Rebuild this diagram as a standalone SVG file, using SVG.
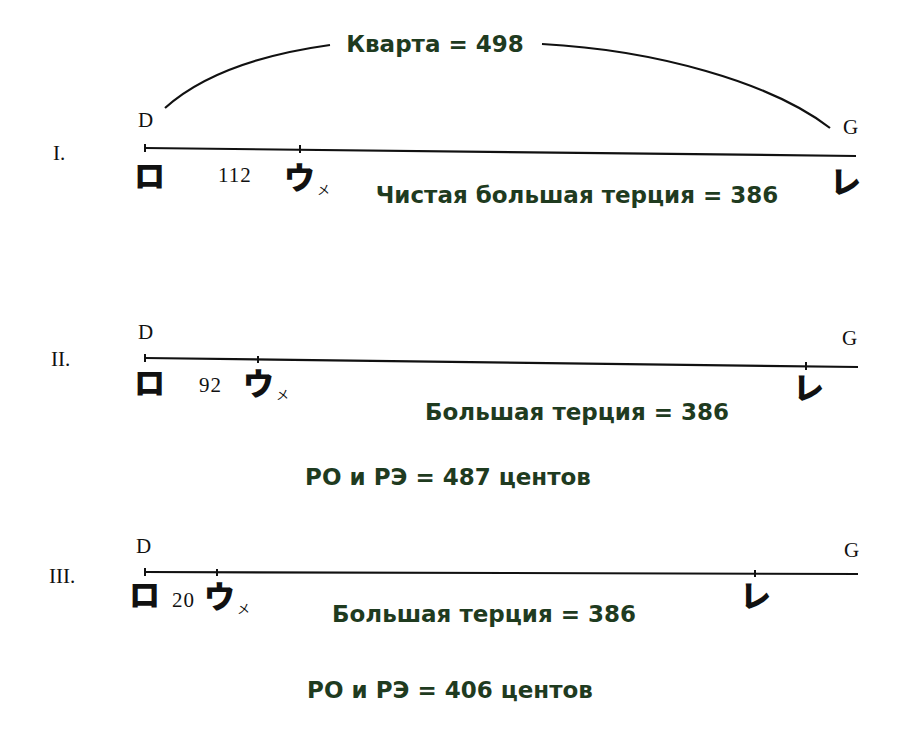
<svg xmlns="http://www.w3.org/2000/svg" width="900" height="730" viewBox="0 0 900 730">
<style>
.lbl{font-family:"DejaVu Sans","Liberation Sans",sans-serif;font-weight:bold;font-size:23px;fill:#1f3b1f;text-anchor:middle}
.ser{font-family:"Liberation Serif","DejaVu Serif",serif;font-size:21px;fill:#111}
.num{font-family:"Liberation Serif","DejaVu Serif",serif;font-size:21px;fill:#111;letter-spacing:1px}
.kana{font-family:"Noto Sans CJK JP",sans-serif;font-weight:900;font-size:31px;fill:#111}
.sm{font-family:"Noto Sans CJK JP",sans-serif;font-size:13px;fill:#111}
.ln{stroke:#111;stroke-width:2.2;fill:none}
.tk{stroke:#111;stroke-width:2}
</style>
<rect width="900" height="730" fill="#fff"/>
<g id="connectors">
<path class="ln" d="M165,108 C205,72 265,54 330,45"/>
<path class="ln" d="M542,44 C655,50 770,82 830,128"/>
<line class="ln" x1="145" y1="148" x2="856" y2="156"/>
<line class="tk" x1="145" y1="144" x2="145" y2="152"/>
<line class="tk" x1="300" y1="145" x2="300" y2="153"/>
<line class="ln" x1="145" y1="358" x2="858" y2="367"/>
<line class="tk" x1="145" y1="354" x2="145" y2="362"/>
<line class="tk" x1="258" y1="356" x2="258" y2="363"/>
<line class="tk" x1="806" y1="362" x2="806" y2="370"/>
<line class="ln" x1="145" y1="572" x2="858" y2="574"/>
<line class="tk" x1="145" y1="568" x2="145" y2="576"/>
<line class="tk" x1="217" y1="569" x2="217" y2="576"/>
<line class="tk" x1="755" y1="570" x2="755" y2="577"/>
</g>
<g id="title"><text class="lbl" x="435" y="52">Кварта = 498</text></g>
<g id="row1">
<text class="ser" x="53" y="160">I.</text>
<text class="ser" x="138" y="127">D</text>
<text class="ser" x="843" y="134">G</text>
<text class="kana" x="134" y="187">ロ</text>
<text class="num" x="218" y="182">112</text>
<text class="kana" x="284" y="189">ウ</text><text class="sm" x="317" y="194">メ</text>
<text class="kana" x="830" y="193">レ</text>
<text class="lbl" x="577" y="203">Чистая большая терция = 386</text>
</g>
<g id="row2">
<text class="ser" x="51" y="366">II.</text>
<text class="ser" x="138" y="339">D</text>
<text class="ser" x="842" y="345">G</text>
<text class="kana" x="134" y="394">ロ</text>
<text class="num" x="199" y="392">92</text>
<text class="kana" x="243" y="395">ウ</text><text class="sm" x="276" y="399">メ</text>
<text class="kana" x="793" y="399">レ</text>
<text class="lbl" x="577" y="420">Большая терция = 386</text>
<text class="lbl" x="448" y="485">РО и РЭ = 487 центов</text>
</g>
<g id="row3">
<text class="ser" x="49" y="583">III.</text>
<text class="ser" x="136" y="553">D</text>
<text class="ser" x="844" y="557">G</text>
<text class="kana" x="129" y="606">ロ</text>
<text class="num" x="172" y="607">20</text>
<text class="kana" x="204" y="608">ウ</text><text class="sm" x="237" y="613">メ</text>
<text class="kana" x="740" y="607">レ</text>
<text class="lbl" x="484" y="622">Большая терция = 386</text>
<text class="lbl" x="450" y="698">РО и РЭ = 406 центов</text>
</g>
</svg>
